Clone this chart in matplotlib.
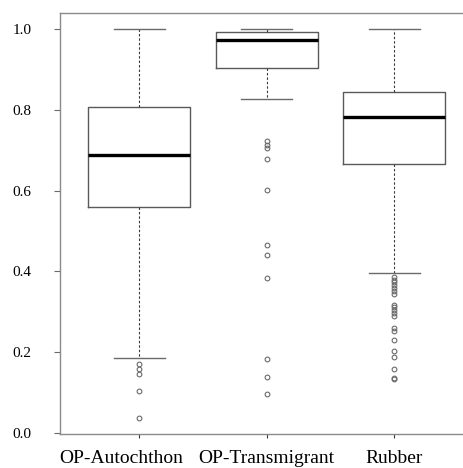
import matplotlib
matplotlib.use("Agg")
import matplotlib.pyplot as plt
from matplotlib.transforms import ScaledTranslation

plt.rcParams["font.family"] = ["Liberation Serif", "DejaVu Serif"]

# five-number summaries per land-use class
grupos = ["OP-Autochthon", "OP-Transmigrant", "Rubber"]
mediana = [0.687, 0.974, 0.782]
q1 = [0.559, 0.903, 0.666]
q3 = [0.807, 0.993, 0.843]
bigote_inf = [0.185, 0.826, 0.397]
bigote_sup = [1.0, 1.0, 1.0]

# valores atipicos
atipicos_aut = [0.171, 0.158, 0.146, 0.105, 0.036]
atipicos_trans = [0.723, 0.713, 0.705, 0.677, 0.601, 0.466, 0.441, 0.383,
                  0.183, 0.138, 0.0965]
atipicos_rub = [0.385, 0.379, 0.373, 0.366, 0.359, 0.351, 0.344,
                0.317, 0.311, 0.304, 0.298, 0.290,
                0.261, 0.253, 0.230, 0.204, 0.187, 0.158, 0.135, 0.133]
atipicos = [atipicos_aut, atipicos_trans, atipicos_rub]

stats = []
for i, nombre in enumerate(grupos):
    stats.append({
        "label": nombre,
        "med": mediana[i],
        "q1": q1[i],
        "q3": q3[i],
        "whislo": bigote_inf[i],
        "whishi": bigote_sup[i],
        "fliers": atipicos[i],
    })

fig = plt.figure(figsize=(4.64, 4.68), dpi=100)
ax = fig.add_axes([0.1293, 0.0726, 0.891, 0.8987])

ax.bxp(stats, positions=[1, 2, 3], widths=0.8, patch_artist=False,
       boxprops=dict(color="#5a5a5a", linewidth=1.0),
       medianprops=dict(color="black", linewidth=2.4),
       whiskerprops=dict(color="#3a3a3a", linewidth=0.8, linestyle=(0, (2.2, 1.8))),
       capprops=dict(color="#6a6a6a", linewidth=1.0),
       capwidths=0.4,
       flierprops=dict(marker="o", markersize=3.4, markerfacecolor="none",
                       markeredgecolor="#6a6a6a", markeredgewidth=0.8))

ax.set_xlim(0.38, 3.62)
ax.set_ylim(-0.0026, 1.0386)
ax.set_yticks([0.0, 0.2, 0.4, 0.6, 0.8, 1.0])
ax.set_yticklabels(["0.0", "0.2", "0.4", "0.6", "0.8", "1.0"])
ax.set_xticks([1, 2, 3])
ax.set_xticklabels(grupos)

for lado in ["left", "top", "bottom", "right"]:
    ax.spines[lado].set_color("#8a8a8a")
    ax.spines[lado].set_linewidth(1.0)

ax.tick_params(axis="y", length=4.5, width=0.8, color="#6a6a6a", pad=16, labelsize=11)
ax.tick_params(axis="x", length=3, width=0.8, color="#3a3a3a", pad=8.5, labelsize=14)

# la primera etiqueta va corrida a la izquierda para no chocar con la segunda
etiqueta = ax.get_xticklabels()[0]
etiqueta.set_transform(etiqueta.get_transform()
                       + ScaledTranslation(-0.18, 0, fig.dpi_scale_trans))

plt.savefig("out.png", dpi=100)
